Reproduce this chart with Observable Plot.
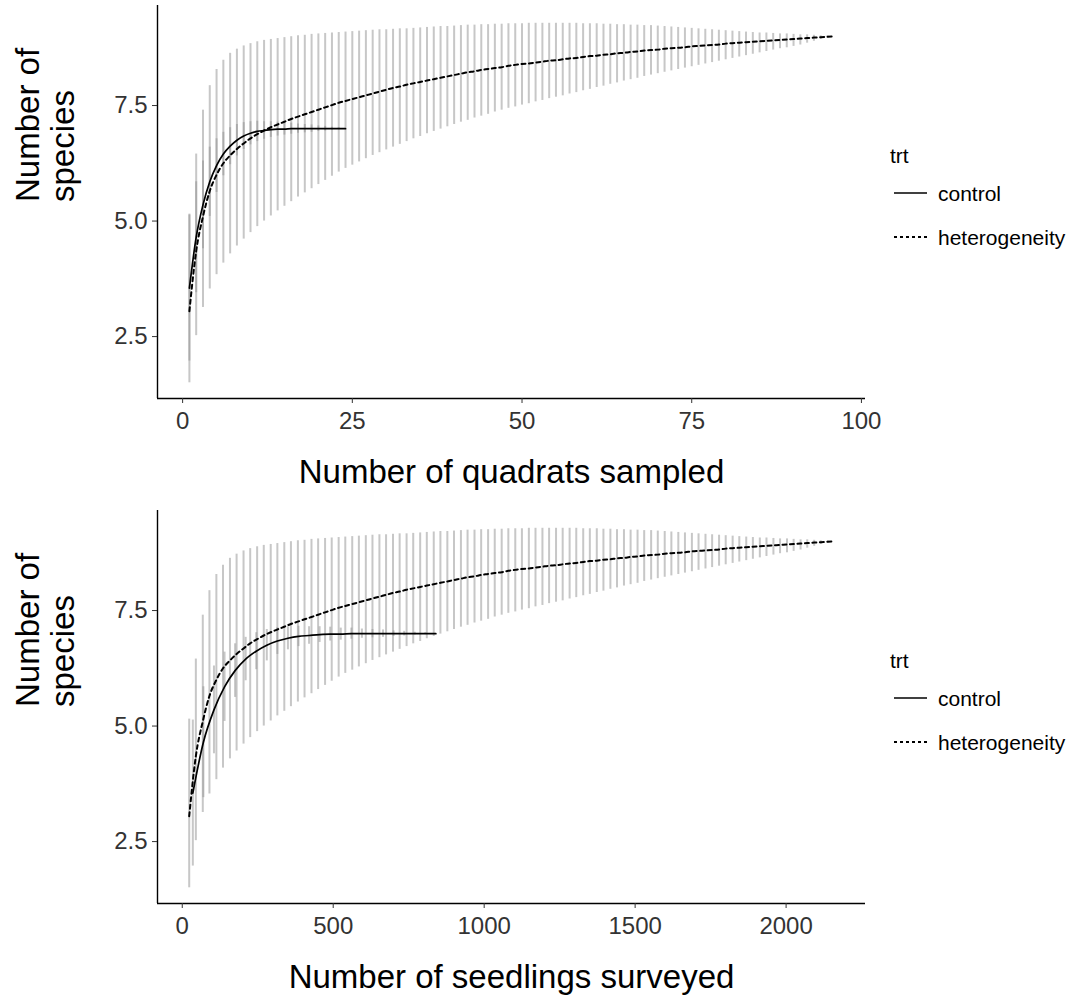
<!DOCTYPE html>
<html>
<head>
<meta charset="utf-8">
<script src="https://cdn.jsdelivr.net/npm/d3@7"></script>
<script src="https://cdn.jsdelivr.net/npm/@observablehq/plot@0.6"></script>
<style>
  body { margin: 0; background: #fff; font-family: "Liberation Sans", Arial, sans-serif; }
  #figure { position: relative; width: 1078px; height: 1005px; }
  .panel { position: absolute; left: 0; width: 1078px; height: 500px; }
  .panel svg { display: block; }
</style>
</head>
<body>
<div id="figure"></div>
<script>
// Species accumulation (rarefaction / extrapolation) by treatment.

// Heterogeneity treatment: sampling effort
const hetQuadrats = [1,2,3,4,5,6,7,8,9,10,11,12,13,14,15,16,17,18,19,20,21,22,23,24,
  25,26,27,28,29,30,31,32,33,34,35,36,37,38,39,40,41,42,43,44,45,46,47,48,
  49,50,51,52,53,54,55,56,57,58,59,60,61,62,63,64,65,66,67,68,69,70,71,72,
  73,74,75,76,77,78,79,80,81,82,83,84,85,86,87,88,89,90,91,92,93,94,95,96];
const hetSeedlings = [23,45,68,90,113,135,158,180,203,225,248,270,293,315,338,360,383,405,428,450,473,495,518,540,
  563,585,608,630,653,675,698,720,743,765,788,810,833,855,878,900,923,945,968,990,1013,1035,1058,1080,
  1103,1125,1148,1170,1193,1215,1238,1260,1283,1305,1328,1350,1373,1395,1418,1440,1463,1485,1508,1530,1553,1575,1598,1620,
  1643,1665,1688,1710,1733,1755,1778,1800,1823,1845,1868,1890,1913,1935,1958,1980,2003,2025,2048,2070,2093,2115,2138,2160];

// Heterogeneity treatment: expected richness and confidence limits
const hetMean = [3.05,4.35,5.1,5.65,6.0,6.25,6.42,6.56,6.68,6.79,6.88,6.96,7.03,7.09,7.15,7.21,7.26,7.31,7.36,7.41,7.46,7.51,7.56,7.6,
  7.64,7.68,7.72,7.76,7.8,7.84,7.88,7.91,7.95,7.98,8.01,8.04,8.07,8.1,8.13,8.16,8.19,8.22,8.24,8.27,8.29,8.31,8.33,8.36,
  8.38,8.4,8.41,8.43,8.45,8.47,8.48,8.5,8.52,8.53,8.55,8.57,8.58,8.6,8.61,8.63,8.64,8.66,8.67,8.69,8.7,8.71,8.73,8.74,
  8.75,8.76,8.78,8.79,8.8,8.81,8.82,8.84,8.85,8.86,8.87,8.88,8.89,8.9,8.91,8.92,8.93,8.94,8.95,8.96,8.97,8.98,8.99,9.0];
const hetUpper = [5.15,6.45,7.4,7.93,8.28,8.48,8.63,8.72,8.79,8.84,8.88,8.91,8.93,8.95,8.97,8.99,9.01,9.02,9.04,9.05,9.06,9.07,9.08,9.09,
  9.1,9.11,9.12,9.13,9.14,9.14,9.15,9.16,9.16,9.17,9.18,9.19,9.2,9.21,9.21,9.22,9.23,9.24,9.24,9.25,9.25,9.26,9.26,9.27,
  9.27,9.27,9.28,9.28,9.28,9.28,9.28,9.28,9.28,9.28,9.27,9.27,9.27,9.26,9.26,9.25,9.25,9.24,9.24,9.23,9.23,9.22,9.21,9.2,
  9.19,9.18,9.17,9.16,9.15,9.14,9.13,9.12,9.11,9.1,9.09,9.08,9.07,9.07,9.06,9.05,9.05,9.04,9.03,9.03,9.02,9.01,9.01,9.0];
const hetLower = [1.5,2.52,3.13,3.53,3.84,4.09,4.29,4.46,4.61,4.75,4.88,5.0,5.11,5.22,5.32,5.42,5.52,5.61,5.7,5.79,5.88,5.97,6.06,6.14,
  6.21,6.28,6.35,6.42,6.48,6.54,6.6,6.66,6.72,6.78,6.83,6.89,6.94,6.99,7.04,7.09,7.14,7.18,7.23,7.27,7.31,7.36,7.4,7.44,
  7.47,7.51,7.54,7.58,7.61,7.65,7.68,7.71,7.75,7.78,7.82,7.85,7.89,7.92,7.96,7.99,8.03,8.06,8.09,8.13,8.16,8.19,8.22,8.25,
  8.28,8.31,8.34,8.37,8.4,8.43,8.46,8.49,8.52,8.55,8.58,8.61,8.64,8.67,8.7,8.73,8.75,8.78,8.81,8.85,8.89,8.93,8.96,9.0];

// Control treatment: sampling effort
const ctrlQuadrats = [1,2,3,4,5,6,7,8,9,10,11,12,13,14,15,16,17,18,19,20,21,22,23,24];
const ctrlSeedlings = [35,70,105,140,175,210,245,280,315,350,385,420,455,490,525,560,595,630,665,700,735,770,805,840];

// Control treatment: expected richness and confidence limits
const ctrlMean  = [3.55,4.65,5.35,5.85,6.2,6.45,6.62,6.75,6.84,6.9,6.94,6.96,6.98,6.99,6.99,7.0,7.0,7.0,7.0,7.0,7.0,7.0,7.0,7.0];
const ctrlUpper = [5.13,5.85,6.3,6.6,6.78,6.92,7.02,7.09,7.13,7.15,7.16,7.15,7.15,7.14,7.12,7.12,7.1,7.09,7.08,7.06,7.05,7.03,7.02,7.0];
const ctrlLower = [1.97,3.45,4.4,5.1,5.62,5.98,6.22,6.41,6.55,6.65,6.72,6.77,6.81,6.84,6.86,6.88,6.9,6.91,6.92,6.94,6.95,6.97,6.98,7.0];

// Axis ticks and labels
const yTicks = [2.5, 5.0, 7.5];
const quadratTicks = [0, 25, 50, 75, 100];
const seedlingTicks = [0, 500, 1000, 1500, 2000];
const treatments = ["control", "heterogeneity"];
const legendTitle = "trt";
const yTitle = "Number of\nspecies";
const quadratTitle = "Number of quadrats sampled";
const seedlingTitle = "Number of seedlings surveyed";

const FONT = '"Liberation Sans", Arial, Helvetica, sans-serif';
const Y_DOMAIN = [1.16, 9.665];
const DASH = "4,3.5";

function rows(xs, mean, lo, hi, trt) {
  return xs.map((x, i) => ({x, y: mean[i], lo: lo[i], hi: hi[i], trt}));
}

function panel({xs, title, ticks, domain}) {
  const data = [
    ...rows(xs.het, hetMean, hetLower, hetUpper, treatments[1]),
    ...rows(xs.ctrl, ctrlMean, ctrlLower, ctrlUpper, treatments[0])
  ];
  return Plot.plot({
    width: 870,
    height: 500,
    marginLeft: 157,
    marginRight: 5,
    marginTop: 5,
    marginBottom: 102,
    style: {fontFamily: FONT, background: "transparent", overflow: "visible"},
    x: {domain},
    y: {domain: Y_DOMAIN},
    marks: [
      // confidence intervals
      Plot.ruleX(data, {x: "x", y1: "lo", y2: "hi", stroke: "#8f8f8f", strokeOpacity: 0.5, strokeWidth: 2}),
      // accumulation curves
      Plot.line(data.filter(d => d.trt === "control"), {x: "x", y: "y", curve: "monotone-x", stroke: "#000", strokeWidth: 1.7}),
      Plot.line(data.filter(d => d.trt === "heterogeneity"), {x: "x", y: "y", curve: "monotone-x", stroke: "#000", strokeWidth: 2, strokeDasharray: DASH}),
      // axis lines
      Plot.ruleY([Y_DOMAIN[0]], {stroke: "#000", strokeWidth: 1.4}),
      Plot.ruleX([domain[0]], {stroke: "#000", strokeWidth: 1.4}),
      Plot.axisX({ticks, tickFormat: d3.format("d"), tickSize: 5, tickPadding: 8, fontSize: 24, color: "#333", label: null}),
      Plot.axisY({ticks: yTicks, tickFormat: d3.format(".1f"), tickSize: 5, tickPadding: 5, fontSize: 24, color: "#333", label: null}),
      // axis titles
      Plot.text([title], {frameAnchor: "bottom", dy: 84, fontSize: 33, fill: "#000"}),
      Plot.text([yTitle], {frameAnchor: "left", rotate: -90, dx: -112, fontSize: 33, lineHeight: 1.05, fill: "#000"})
    ]
  });
}

function legend() {
  const svg = d3.create("svg")
    .attr("width", 208).attr("height", 500)
    .style("position", "absolute").style("left", "870px").style("top", "0px")
    .style("font-family", FONT);
  svg.append("text").attr("x", 20).attr("y", 163).attr("font-size", 21).attr("fill", "#000").text(legendTitle);
  const item = svg.selectAll("g.item").data(treatments).join("g")
    .attr("class", "item")
    .attr("transform", (d, i) => `translate(0,${193 + i * 44})`);
  item.append("line").attr("x1", 24).attr("x2", 57).attr("y1", 0).attr("y2", 0)
    .attr("stroke", "#000").attr("stroke-width", (d, i) => i ? 1.8 : 1.6)
    .attr("stroke-dasharray", (d, i) => i ? "3,3" : null);
  item.append("text").attr("x", 68).attr("y", 8).attr("font-size", 21).attr("fill", "#000").text(d => d);
  return svg.node();
}

const fig = document.getElementById("figure");
const specs = [
  {xs: {het: hetQuadrats, ctrl: ctrlQuadrats}, title: quadratTitle, ticks: quadratTicks, domain: [-3.7, 100.6]},
  {xs: {het: hetSeedlings, ctrl: ctrlSeedlings}, title: seedlingTitle, ticks: seedlingTicks, domain: [-82, 2263]}
];
specs.forEach((s, i) => {
  const div = document.createElement("div");
  div.className = "panel";
  div.style.top = (i * 505) + "px";
  div.appendChild(panel(s));
  div.appendChild(legend());
  fig.appendChild(div);
});
</script>
</body>
</html>
